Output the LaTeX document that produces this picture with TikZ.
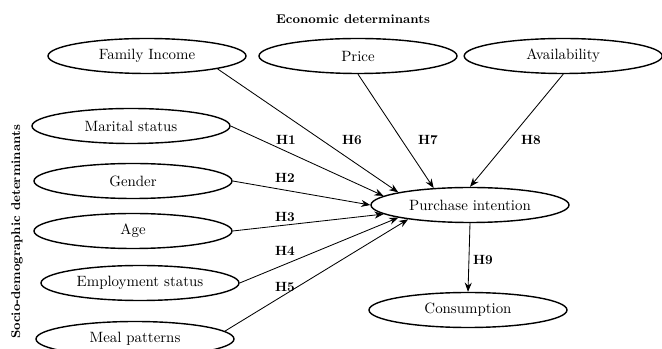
\documentclass[tikz,border=0pt]{standalone}
\usepackage{amsmath}
\usetikzlibrary{shapes.geometric,arrows.meta}

\begin{document}
\begin{tikzpicture}[
        factor/.style={draw,ellipse,line width=1pt,minimum width=4.95cm,minimum height=0.875cm,inner sep=0pt,font=\fontsize{10.6}{12}\selectfont},
        path/.style={-{Stealth[length=6.5pt,width=5pt]},line width=0.6pt},
        hyp/.style={font=\fontsize{9.5}{11}\selectfont\bfseries}
    ]
        \useasboundingbox (0,0) rectangle (16.55,8.725);

        % Titles
        \node[font=\small\bfseries] (eco) at (8.825,8.25) {Economic determinants};
        \node[font=\small\bfseries,rotate=90] (socio) at (0.425,2.925) {Socio-demographic determinants};

        % Economic determinants
        \node[factor] (income) at (3.675,7.325) {Family Income};
        \node[factor] (price) at (8.95,7.325) {Price};
        \node[factor] (avail) at (14.08,7.325) {Availability};

        % Socio-demographic determinants
        \node[factor] (marital) at (3.275,5.575) {Marital status};
        \node[factor] (gender) at (3.325,4.2) {Gender};
        \node[factor] (age) at (3.325,2.95) {Age};
        \node[factor] (employ) at (3.5,1.65) {Employment status};
        \node[factor] (meal) at (3.375,0.25) {Meal patterns};

        % Outcomes
        \node[factor] (intent) at (11.75,3.6) {Purchase intention};
        \node[factor] (consum) at (11.7,0.975) {Consumption};

        % Paths
        \draw[path] (income.south east) -- (intent.170);
        \draw[path] (price.south) -- (intent.155);
        \draw[path] (avail.south) -- (intent.north);
        \draw[path] (marital.east) -- (intent.174);
        \draw[path] (gender.east) -- (intent.west);
        \draw[path] (age.east) -- (intent.186);
        \draw[path] (employ.east) -- (intent.190);
        \draw[path] (meal.5) -- (intent.193);
        \draw[path] (intent.south) -- (consum.north);

        % Hypotheses
        \foreach \h/\x/\y in {H1/7.15/5.225, H6/8.8/5.225, H7/10.7/5.225, H8/13.275/5.225,
                              H2/7.125/4.275, H3/7.125/3.3, H4/7.125/2.45, H5/7.125/1.55,
                              H9/12.075/2.225}
            \node[hyp] (\h) at (\x,\y) {\h};
    \end{tikzpicture}
\end{document}
